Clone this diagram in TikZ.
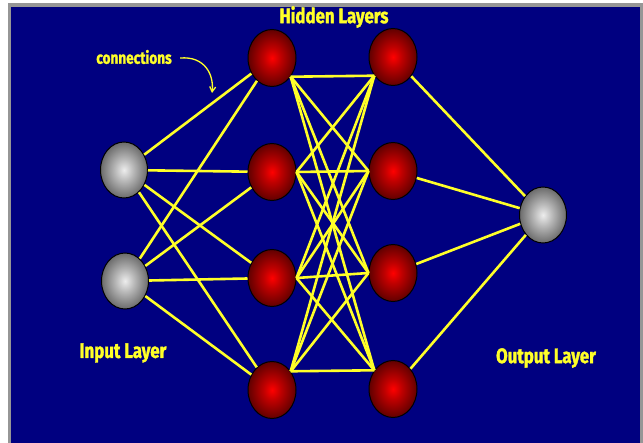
\documentclass[tikz,border=0pt]{standalone}
\usepackage{fontspec}
\usetikzlibrary{shapes.geometric,arrows.meta}
\newfontfamily\lblfont[FakeStretch=0.8,FakeBold=1.5]{Fira Sans Bold}
\definecolor{navy}{RGB}{0,0,128}
\definecolor{frame}{RGB}{150,150,150}
\definecolor{wire}{RGB}{255,255,40}
\pgfdeclareradialshading{redball}{\pgfpoint{0bp}{0bp}}{color(0bp)=(red); color(9bp)=(red!75!black); color(25bp)=(red!38!black); color(50bp)=(red!38!black)}
\pgfdeclareradialshading{grayball}{\pgfpoint{0bp}{0bp}}{color(0bp)=(white!93!black); color(10bp)=(white!72!black); color(25bp)=(white!42!black); color(50bp)=(white!42!black)}
\tikzset{
  hid/.style={ellipse, draw=black, line width=1pt, shading=redball, minimum width=48pt, minimum height=57pt, inner sep=0pt},
  io/.style={ellipse, draw=black, line width=1pt, shading=grayball, minimum width=47pt, minimum height=56pt, inner sep=0pt},
  lbl/.style={text=wire, font=\lblfont\fontsize{21}{21}\selectfont},
  wired/.style={draw, wire, line width=2.6pt}
}
\begin{document}
\begin{tikzpicture}[x=1pt,y=-1pt]
\useasboundingbox (0,0) rectangle (643,443);
\fill[white] (0,0) rectangle (643,443);
\fill[frame] (8,3) rectangle (643,443);
\fill[navy] (11,7) rectangle (640,443);

\node[io] (in1) at (124,170) {};
\node[io] (in2) at (125,281) {};

\node[hid] (h1) at (272,58) {};
\node[hid] (h2) at (272,172) {};
\node[hid] (h3) at (272,278) {};
\node[hid] (h4) at (272,390) {};

\node[hid] (k1) at (393,57) {};
\node[hid] (k2) at (393,171) {};
\node[hid] (k3) at (393,273) {};
\node[hid] (k4) at (393,389) {};

\node[io] (out) at (543,215) {};

\node[lbl] (hidden) at (334,17) {Hidden Layers};
\node[lbl] (input) at (123,353) {Input Layer};
\node[lbl] (output) at (546,358) {Output Layer};
\node[lbl, font=\lblfont\fontsize{17}{17}\selectfont] (conn) at (134,57) {connections};
\coordinate (tip) at (212,93);

\path[draw,wire,line width=1.3pt,-{Straight Barb[length=5pt,width=6pt]}] (conn.east) ++(5,1) .. controls +(25,-2) and +(2,-18) .. (tip);

% input -> first hidden layer
\path[wired] (in1) -- (h1);
\path[wired] (in1) -- (h2);
\path[wired] (in1) -- (h3);
\path[wired] (in1) -- (h4);
\path[wired] (in2) -- (h1);
\path[wired] (in2) -- (h2);
\path[wired] (in2) -- (h3);
\path[wired] (in2) -- (h4);

% first hidden layer -> second hidden layer
\path[wired] (h1.-45) -- (k1.225);
\path[wired] (h1.-45) -- (k2.180);
\path[wired] (h1.-45) -- (k3.180);
\path[wired] (h1.-45) -- (k4.135);
\path[wired] (h2.0) -- (k1.225);
\path[wired] (h2.0) -- (k2.180);
\path[wired] (h2.0) -- (k3.180);
\path[wired] (h2.0) -- (k4.135);
\path[wired] (h3.0) -- (k1.225);
\path[wired] (h3.0) -- (k2.180);
\path[wired] (h3.0) -- (k3.180);
\path[wired] (h3.0) -- (k4.135);
\path[wired] (h4.45) -- (k1.225);
\path[wired] (h4.45) -- (k2.180);
\path[wired] (h4.45) -- (k3.180);
\path[wired] (h4.45) -- (k4.135);

% second hidden layer -> output
\path[wired] (k1) -- (out);
\path[wired] (k2) -- (out);
\path[wired] (k3) -- (out);
\path[wired] (k4) -- (out);
\end{tikzpicture}
\end{document}
